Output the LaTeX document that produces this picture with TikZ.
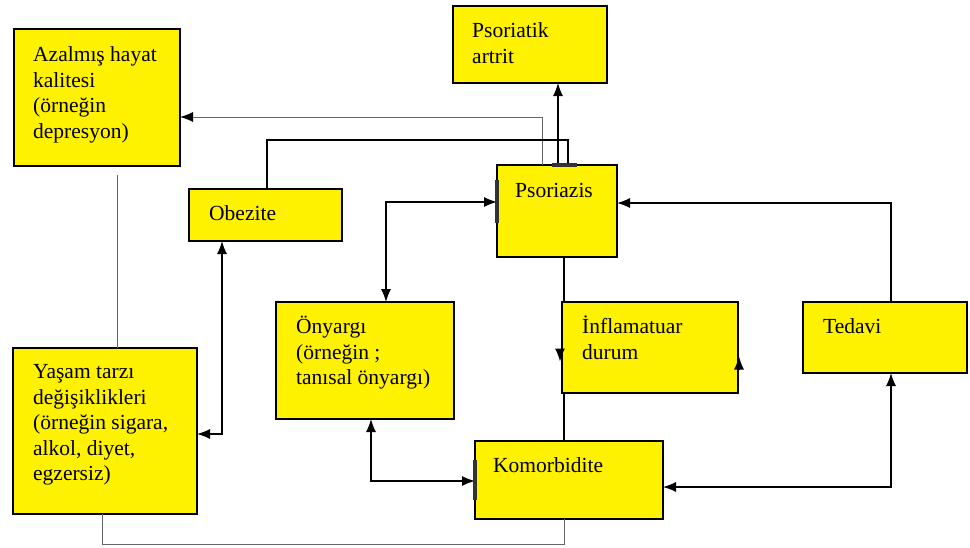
\documentclass[tikz,border=0pt]{standalone}
\usepackage{fontspec}
\setmainfont{Liberation Serif}
\usetikzlibrary{arrows.meta,backgrounds}
\begin{document}
\begin{tikzpicture}[x=1pt,y=-1pt,
  box/.style={draw=black,line width=1.8pt,fill=yellow,inner sep=0pt,outer sep=0pt},
  txt/.style={anchor=north west,inner sep=0pt,align=left,font=\fontsize{21.5}{25.5}\selectfont},
  dlink/.style={draw=black,line width=1.3pt},
  glink/.style={draw=black!60,line width=1pt},
  tip/.style={-{Latex[length=13pt,width=10pt,color=black]}},
  dtip/.style={{Latex[length=13pt,width=10pt]}-{Latex[length=13pt,width=10pt]}},
  bar/.style={draw=black!80,line width=3.5pt}]
\useasboundingbox (0,0) rectangle (970,547);
% boxes
\node[box,minimum width=166pt,minimum height=137pt] (azal) at (97,97.5) {};
\node[box,minimum width=154pt,minimum height=77pt] (artrit) at (530,44.5) {};
\node[box,minimum width=153pt,minimum height=52pt] (obez) at (265.5,215) {};
\node[box,minimum width=120pt,minimum height=92pt] (psor) at (557,211) {};
\node[box,minimum width=178pt,minimum height=117pt] (onya) at (365,360.5) {};
\node[box,minimum width=184pt,minimum height=166pt] (yasam) at (105,431) {};
\node[box,minimum width=176pt,minimum height=91pt] (infl) at (650,347.5) {};
\node[box,minimum width=164pt,minimum height=71pt] (tedavi) at (885,337.5) {};
\node[box,minimum width=188pt,minimum height=78pt] (komor) at (569,480) {};
% texts
\node[txt] (tazal) at (33,43.5) {\strut Azalmış hayat\\kalitesi\\(örneğin\\depresyon)};
\node[txt] (tartrit) at (472,19.5) {\strut Psoriatik\\artrit};
\node[txt] (tobez) at (209,202.5) {\strut Obezite};
\node[txt] (tpsor) at (515,179.5) {\strut Psoriazis};
\node[txt] (tonya) at (296,315.5) {\strut Önyargı\\(örneğin ;\\tanısal önyargı)};
\node[txt] (tyasam) at (33,360.5) {\strut Yaşam tarzı\\değişiklikleri\\(örneğin sigara,\\alkol, diyet,\\egzersiz)};
\node[txt] (tinfl) at (582,315.5) {\strut İnflamatuar\\durum};
\node[txt] (ttedavi) at (823,315.5) {\strut Tedavi};
\node[txt] (tkomor) at (493,454.5) {\strut Komorbidite};
% connector behind the boxes
\begin{pgfonlayer}{background}
\draw[dlink] ([xshift=7pt]psor.south) -- ([xshift=-5pt]komor.north);
\end{pgfonlayer}
% connectors
\draw[glink,tip] ([xshift=45pt]psor.north west) |- ([yshift=-19.5pt]azal.east);
\draw[dlink] ([xshift=1.5pt]obez.north) -- ++(0,-49) -| ([xshift=71pt]psor.north west);
\draw[dlink,tip] ([xshift=28pt]artrit.south) ++(0,82) -- ([xshift=28pt]artrit.south);
\draw[bar] ([xshift=55pt]psor.north west) -- ([xshift=80pt]psor.north west);
\draw[dlink,dtip] ([xshift=21pt]onya.north) |- ([yshift=9pt]psor.west);
\draw[bar] ([yshift=31pt]psor.west) -- ([yshift=-12pt]psor.west);
\draw[dlink,tip] ([xshift=6pt]tedavi.north) |- ([yshift=8pt]psor.east);
\draw[dlink,dtip] ([xshift=-43.5pt]obez.south) |- ([yshift=-3pt]yasam.east);
\draw[glink] ([xshift=20pt,yshift=-9pt]azal.south) -- ([xshift=12pt]yasam.north);
\draw[dlink,dtip] ([xshift=6pt]onya.south) |- ([yshift=-1pt]komor.west);
\draw[bar] ([yshift=20pt]komor.west) -- ([yshift=-20pt]komor.west);
\draw[dlink,dtip] ([xshift=6pt]tedavi.south) |- ([yshift=-7pt]komor.east);
\draw[glink] ([xshift=-3pt]yasam.south) -- ++(0,30) -| ([xshift=-5pt]komor.south);
% small arrowhead remnants at the inflammation box
\draw[dlink,tip] ([xshift=-2pt,yshift=-2pt]infl.west) -- ([xshift=-2pt,yshift=-14pt]infl.west);
\draw[dlink,tip] ([xshift=1pt,yshift=-21pt]infl.east) -- ([xshift=1pt,yshift=-9pt]infl.east);
\end{tikzpicture}
\end{document}
